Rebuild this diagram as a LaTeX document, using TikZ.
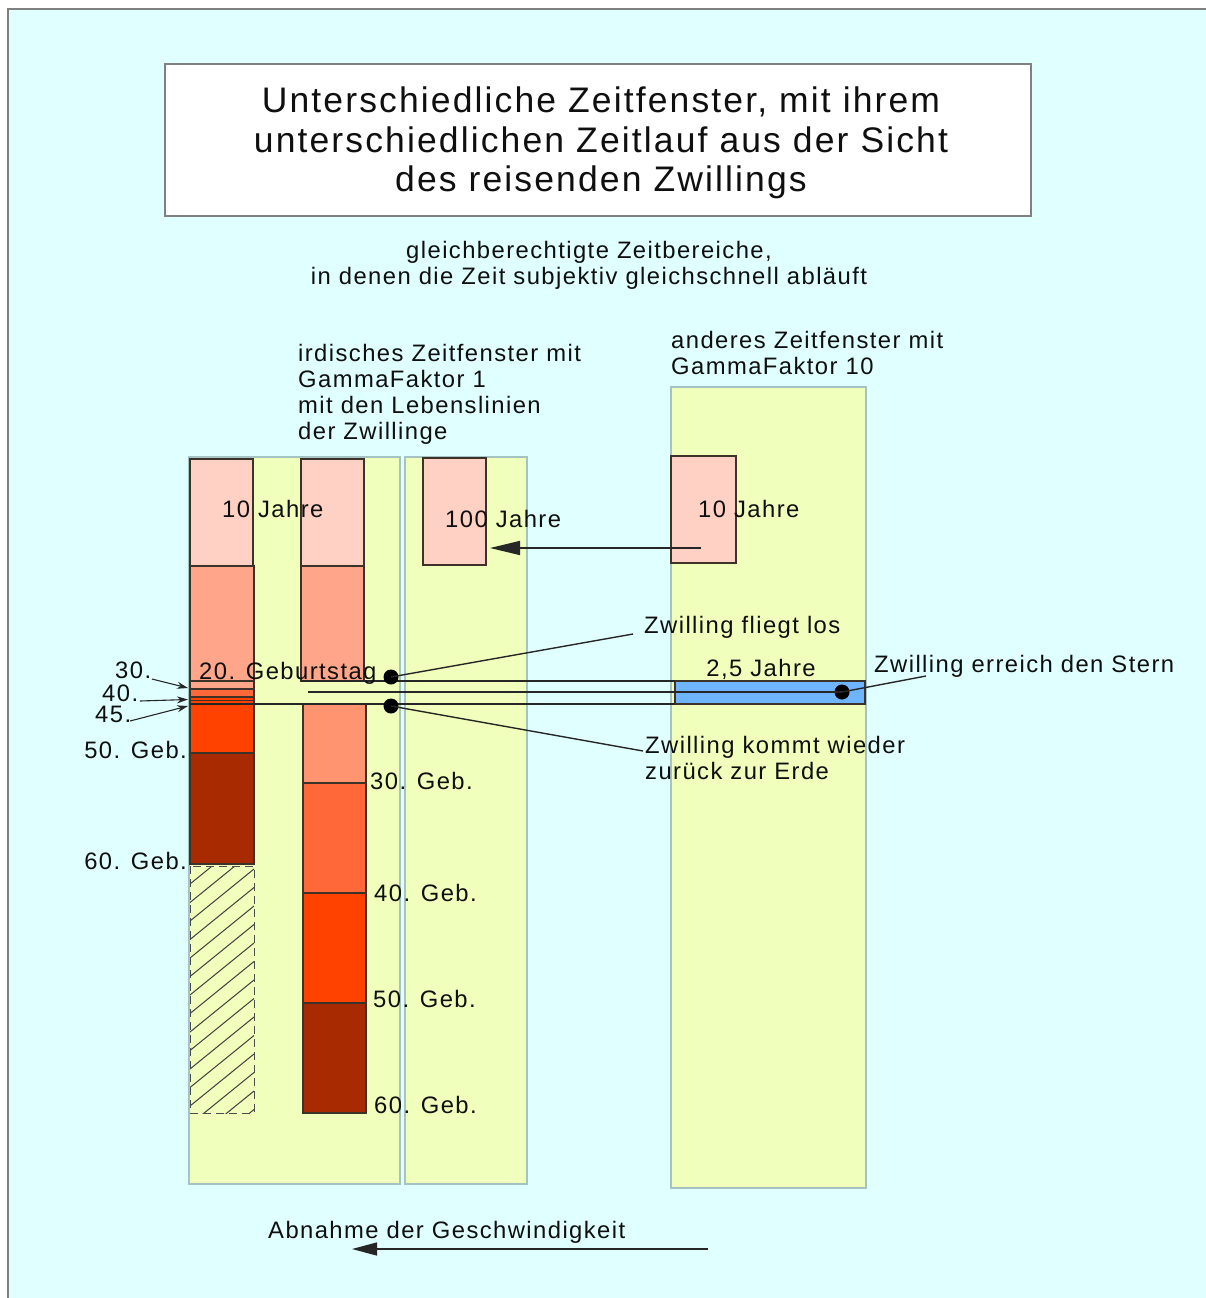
\documentclass[tikz,border=0pt]{standalone}
\usepackage{fontspec}
\setmainfont{Liberation Sans}[LetterSpace=6]
\usetikzlibrary{arrows.meta}
\definecolor{bgcyan}{RGB}{224,255,255}
\definecolor{regfill}{RGB}{240,255,187}
\definecolor{regline}{RGB}{165,195,195}
\definecolor{pinkA}{RGB}{255,208,196}
\definecolor{salmonA}{RGB}{255,166,138}
\definecolor{salmonB}{RGB}{255,148,112}
\definecolor{orangeA}{RGB}{255,104,56}
\definecolor{redA}{RGB}{255,66,0}
\definecolor{darkredA}{RGB}{168,42,0}
\definecolor{blueA}{RGB}{110,180,255}
\definecolor{boxline}{RGB}{60,50,40}
\definecolor{txt}{RGB}{15,15,15}
\begin{document}
\begin{tikzpicture}[x=1pt,y=-1pt,
  lbl/.style={font=\fontsize{23.8}{26}\selectfont, inner sep=0pt, anchor=base west, text=txt},
  lblr/.style={lbl, anchor=base east},
  lblc/.style={lbl, anchor=base},
  ttl/.style={font=\fontsize{35.5}{40}\selectfont, inner sep=0pt, anchor=base, text=txt},
  region/.style={fill=regfill, draw=regline, line width=1.2},
  bx/.style={draw=boxline, line width=1.1},
  ln/.style={draw=black!85, line width=1.4},
  dot/.style={circle, fill=black, inner sep=0pt, minimum size=15},
  bigarrow/.style={ln, -{Triangle[length=30,width=14]}},
  smallarrow/.style={ln, line width=1.1, -{Stealth[length=11,width=7]}}]

\useasboundingbox (0,0) rectangle (1205,1298);
\fill[white] (0,0) rectangle (1205,1298);
\draw[fill=bgcyan, draw=gray, line width=2] (8,9) rectangle (1222,1312);

% title box
\draw[fill=white, draw=gray, line width=1.5] (165,64) rectangle (1031,216);
\node[ttl] (t1) at (601,112) {Unterschiedliche Zeitfenster, mit ihrem};
\node[ttl] (t2) at (601,152) {unterschiedlichen Zeitlauf aus der Sicht};
\node[ttl] (t3) at (601,191) {des reisenden Zwillings};

% subtitle
\node[lblc] (s1) at (589,258) {gleichberechtigte Zeitbereiche,};
\node[lblc] (s2) at (589,284) {in denen die Zeit subjektiv gleichschnell abläuft};

\node[lbl] (i1) at (298,361) {irdisches Zeitfenster mit};
\node[lbl] (i2) at (298,387) {GammaFaktor 1};
\node[lbl] (i3) at (298,413) {mit den Lebenslinien};
\node[lbl] (i4) at (298,439) {der Zwillinge};

\node[lbl] (a1) at (671,348) {anderes Zeitfenster mit};
\node[lbl] (a2) at (671,374) {GammaFaktor 10};

% regions
\draw[region] (189,457) rectangle (400,1184);
\draw[region] (405,457) rectangle (527,1184);
\draw[region] (671,387) rectangle (866,1188);

% column A
\draw[bx, fill=pinkA] (190,459) rectangle (253,566);
\draw[bx, fill=salmonA] (190,566) rectangle (254,681);
\draw[bx, fill=salmonA] (190,681) rectangle (254,689);
\draw[bx, fill=orangeA] (190,689) rectangle (254,697);
\draw[bx, fill=redA] (190,697) rectangle (254,753);
\draw[bx, line width=0.8] (190,700.5) -- (254,700.5);
\draw[bx, fill=darkredA] (190,753) rectangle (254,864);
\begin{scope}
  \clip (190,866) rectangle (254,1113);
  \foreach \k in {0,...,16} {
    \draw[draw=black!75, line width=1] (190,{884+18.5*\k}) -- (254,{832+18.5*\k});
  }
\end{scope}
\draw[draw=black!70, line width=1, dashed, dash pattern=on 8pt off 5pt] (190,866) rectangle (254,1113);

% column B
\draw[bx, fill=pinkA] (301,459) rectangle (364,566);
\draw[bx, fill=salmonA] (301,566) rectangle (364,681);
\draw[bx, fill=salmonB] (303,704) rectangle (366,783);
\draw[bx, fill=orangeA] (303,783) rectangle (366,893);
\draw[bx, fill=redA] (303,893) rectangle (366,1003);
\draw[bx, fill=darkredA] (303,1003) rectangle (366,1113);

% column C and right window
\draw[bx, fill=pinkA] (423,458) rectangle (486,565);
\draw[bx, fill=pinkA] (671,456) rectangle (736,563);

% flight band
\draw[bx, fill=blueA] (675,681) rectangle (865,704);
\draw[ln, line width=1.2] (301,681) -- (675,681);
\draw[ln, line width=1.2] (190,704) -- (675,704);

% dots
\node[dot] (d1) at (391,677) {};
\node[dot] (d2) at (391,706) {};
\node[dot] (d3) at (842,692) {};
\coordinate (m0) at (308,692);
\draw[ln] (m0) -- (d3.center);

% labels in columns
\node[lbl] (l10a) at (222,517) {10 Jahre};
\node[lbl] (l100) at (445,527) {100 Jahre};
\node[lbl] (l10b) at (698,517) {10 Jahre};
\node[lbl] (lgeb) at (199,679) {20. Geburtstag};
\node[lblc] (l25) at (761,676) {2,5 Jahre};

\node[lbl] (n30) at (115,678) {30.};
\node[lbl] (n40) at (102,701) {40.};
\node[lbl] (n45) at (95,722) {45.};
\node[lblr] (n50) at (187,758) {50. Geb.};
\node[lblr] (n60) at (187,869) {60. Geb.};
\node[lbl] (b30) at (370,789) {30. Geb.};
\node[lbl] (b40) at (374,901) {40. Geb.};
\node[lbl] (b50) at (373,1007) {50. Geb.};
\node[lbl] (b60) at (374,1113) {60. Geb.};

\coordinate (e30) at (188,688);
\coordinate (e40) at (188,699.5);
\coordinate (e45) at (188,706);
\coordinate (s30) at (152,679);
\coordinate (s40) at (140,701);
\coordinate (s45) at (130,721);
\draw[smallarrow] (s30) -- (e30);
\draw[smallarrow] (s40) -- (e40);
\draw[smallarrow] (s45) -- (e45);

% annotations
\node[lbl] (fl) at (644,633) {Zwilling fliegt los};
\node[lbl] (st) at (874,672) {Zwilling erreich den Stern};
\node[lbl] (kw1) at (645,753) {Zwilling kommt wieder};
\node[lbl] (kw2) at (645,779) {zurück zur Erde};
\coordinate (c1) at (633,634);
\coordinate (c2) at (643,751);
\coordinate (c3) at (926,676);
\draw[ln] (d1.center) -- (c1);
\draw[ln] (d2.center) -- (c2);
\draw[ln] (d3.center) -- (c3);

% arrows
\coordinate (p1) at (701,548);
\coordinate (p2) at (490,548);
\draw[bigarrow] (p1) -- (p2);

\node[lbl] (ab) at (268,1238) {Abnahme der Geschwindigkeit};
\coordinate (q1) at (708,1249);
\coordinate (q2) at (352,1249);
\draw[ln, -{Triangle[length=25,width=13]}] (q1) -- (q2);
\end{tikzpicture}
\end{document}
